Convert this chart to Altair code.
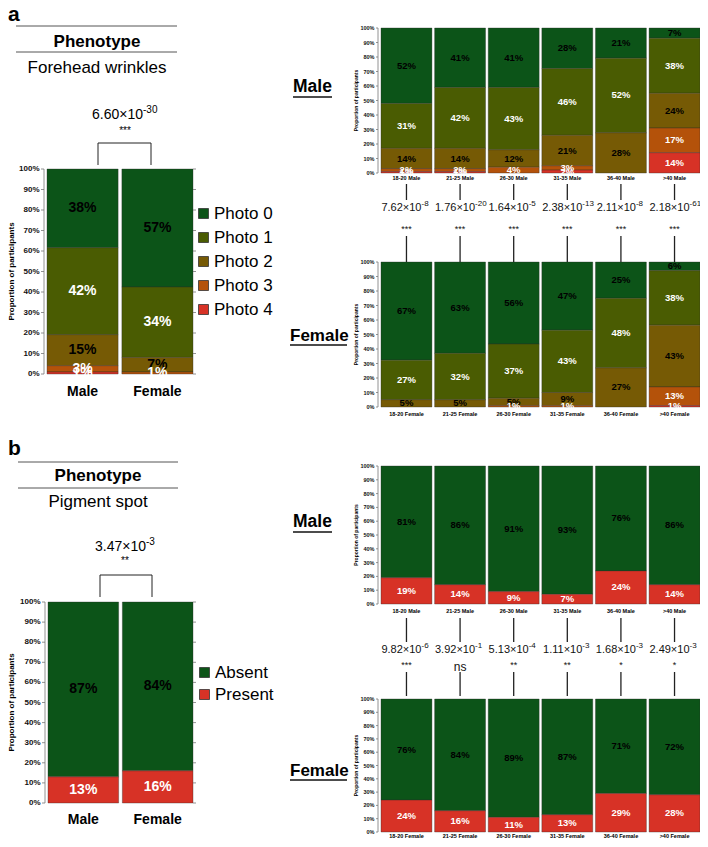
import altair as alt
import pandas as pd

W, H = 692, 831
FONT = "Liberation Sans"

# ---------------- data ----------------
photo_cats = ["Photo 0", "Photo 1", "Photo 2", "Photo 3", "Photo 4"]
photo_colors = ["#0c5418", "#4a5c02", "#765a05", "#b4520a", "#d73226"]
photo_white = [False, True, False, True, True]

spot_cats = ["Absent", "Present"]
spot_colors = ["#0c5418", "#d73226"]
spot_white = [False, True]

sex_groups = ["Male", "Female"]
age_groups = ["18-20", "21-25", "26-30", "31-35", "36-40", ">40"]

# Forehead wrinkles (Photo 0..4), percent
fw_sex = [[38, 42, 15, 3, 1], [57, 34, 7, 1, 0]]
fw_male_age = [[52, 31, 14, 2, 1], [41, 42, 14, 2, 1], [41, 43, 12, 4, 0],
               [28, 46, 21, 3, 2], [21, 52, 28, 0, 0], [7, 38, 24, 17, 14]]
fw_female_age = [[67, 27, 5, 0, 0], [63, 32, 5, 0, 0], [56, 37, 5, 1, 0],
                 [47, 43, 9, 1, 0], [25, 48, 27, 0, 0], [6, 38, 43, 13, 1]]

# Pigment spot (Absent, Present), percent
ps_sex = [[87, 13], [84, 16]]
ps_male_age = [[81, 19], [86, 14], [91, 9], [93, 7], [76, 24], [86, 14]]
ps_female_age = [[76, 24], [84, 16], [89, 11], [87, 13], [71, 29], [72, 28]]

# p-values: mantissa, exponent, significance
fw_p_sex_mant, fw_p_sex_exp, fw_sig_sex = "6.60", "-30", "***"
fw_p_age_mant = ["7.62", "1.76", "1.64", "2.38", "2.11", "2.18"]
fw_p_age_exp = ["-8", "-20", "-5", "-13", "-8", "-61"]
fw_sig_age = ["***", "***", "***", "***", "***", "***"]
ps_p_sex_mant, ps_p_sex_exp, ps_sig_sex = "3.47", "-3", "**"
ps_p_age_mant = ["9.82", "3.92", "5.13", "1.11", "1.68", "2.49"]
ps_p_age_exp = ["-6", "-1", "-4", "-3", "-3", "-3"]
ps_sig_age = ["***", "ns", "**", "**", "*", "*"]

y_ticks = [i / 10 for i in range(11)]
dummy = pd.DataFrame({"d": [0]})
tick_df = pd.DataFrame({"t": y_ticks})


def stacked_panel(groups, values, cats, colors, white, xr, yr, bar_font, tick_font,
                  title_font, title_x, xlab_font, xlab_y, label_suffix="",
                  legend=None, pad_inner=0.05, tick_size=3, right_ticks=False, extras=()):
    rows = []
    for g, vals in zip(groups, values):
        for i, v in enumerate(vals):
            rows.append({"group": g, "cat": cats[i], "rank": i, "value": v, "white": white[i]})
    df = pd.DataFrame(rows)
    base = (alt.Chart(df)
            .transform_filter("datum.value > 0")
            .transform_stack(stack="value", groupby=["group"], as_=["y0", "y1"],
                             offset="normalize",
                             sort=[alt.SortField("rank", order="descending")])
            .transform_calculate(mid="(datum.y0 + datum.y1) / 2", lab="datum.value + '%'"))
    x = alt.X("group:N", sort=groups,
              scale=alt.Scale(domain=groups, range=list(xr), paddingInner=pad_inner, paddingOuter=0),
              axis=None)
    y = alt.Y("y0:Q", scale=alt.Scale(domain=[0, 1], range=list(yr), nice=False, zero=False),
              axis=None)
    color = alt.Color("cat:N", scale=alt.Scale(domain=cats, range=colors), legend=legend)
    bars = base.mark_bar(stroke="#2b2b2b", strokeWidth=0.5, strokeOpacity=0.7).encode(
        x=x, y=y, y2="y1:Q", color=color)
    tx = alt.X("group:N", sort=groups, axis=None)
    ty = alt.Y("mid:Q", axis=None)
    blk = base.transform_filter("!datum.white").mark_text(
        color="black", fontSize=bar_font, fontWeight="bold", font=FONT).encode(x=tx, y=ty, text="lab:N")
    wht = base.transform_filter("datum.white").mark_text(
        color="white", fontSize=bar_font, fontWeight="bold", font=FONT).encode(x=tx, y=ty, text="lab:N")

    # hand-drawn axis (through the same y scale)
    ax = xr[0] - 3
    tk = alt.Chart(tick_df).transform_calculate(lab="format(datum.t, '.0%')")
    ty2 = alt.Y("t:Q", axis=None)
    tick_marks = tk.mark_rule(color="#777", strokeWidth=0.8).encode(
        x=alt.value(ax - tick_size), x2=alt.value(ax), y=ty2)
    tick_labels = tk.mark_text(align="right", baseline="middle", fontSize=tick_font,
                               fontWeight="bold", font=FONT, color="#111").encode(
        x=alt.value(ax - tick_size - 1.5), y=ty2, text="lab:N")
    dom = alt.Chart(dummy).mark_rule(color="#777", strokeWidth=0.8).encode(
        x=alt.value(ax), y=alt.value(yr[0]), y2=alt.value(yr[1]))
    title = alt.Chart(dummy).mark_text(
        text="Proportion of participants", angle=270, fontSize=title_font, fontWeight="bold",
        font=FONT, color="black", baseline="middle", align="center").encode(
        x=alt.value(title_x), y=alt.value((yr[0] + yr[1]) / 2))
    xl = alt.Chart(pd.DataFrame({"group": groups})).transform_calculate(
        lab="datum.group + '" + label_suffix + "'").mark_text(
        fontSize=xlab_font, fontWeight="bold", font=FONT, color="black", baseline="middle").encode(
        x=tx, y=alt.value(xlab_y), text="lab:N")
    parts = [bars, blk, wht, tick_marks, tick_labels, dom, title, xl]
    if right_ticks:
        parts.append(tk.mark_rule(color="#777", strokeWidth=0.8).encode(
            x=alt.value(xr[1]), x2=alt.value(xr[1] + tick_size), y=ty2))
    return alt.layer(*parts, *extras)


def pval_layers(groups, mants, exps, sigs, y_top1, y_bot1, y_p, y_sig, y_top2, y_bot2):
    pdf = pd.DataFrame({"group": groups, "m": mants, "e": exps, "sig": sigs})
    gx = alt.X("group:N", sort=groups, axis=None)
    base = alt.Chart(pdf)
    r1 = base.mark_rule(color="#222", strokeWidth=1.3).encode(x=gx, y=alt.value(y_top1), y2=alt.value(y_bot1))
    r2 = base.mark_rule(color="#222", strokeWidth=1.3).encode(x=gx, y=alt.value(y_top2), y2=alt.value(y_bot2))
    pm = base.transform_calculate(t="datum.m + '×10'").mark_text(
        fontSize=11, font=FONT, color="#111", align="right", dx=15).encode(
        x=gx, y=alt.value(y_p), text="t:N")
    pe = base.mark_text(fontSize=8, font=FONT, color="#111", align="left", dx=15).encode(
        x=gx, y=alt.value(y_p - 4), text="e:N")
    st = base.transform_filter("datum.sig != 'ns'").mark_text(
        fontSize=9, font=FONT, baseline="top", color="#111").encode(x=gx, y=alt.value(y_sig - 2), text="sig:N")
    ns = base.transform_filter("datum.sig == 'ns'").mark_text(
        fontSize=12, font=FONT, color="#111").encode(x=gx, y=alt.value(y_sig + 4), text="sig:N")
    return [r1, r2, pm, pe, st, ns]


def txt(s, x, y, size, bold=False, align="center", baseline="middle", dy=0):
    return alt.Chart(dummy).mark_text(
        text=s, fontSize=size, fontWeight="bold" if bold else "normal", font=FONT,
        align=align, baseline=baseline, color="black", dy=dy).encode(x=alt.value(x), y=alt.value(y))


def line(x1, x2, y1, y2, color="#555", width=1.0):
    return alt.Chart(dummy).mark_rule(color=color, strokeWidth=width).encode(
        x=alt.value(x1), x2=alt.value(x2), y=alt.value(y1), y2=alt.value(y2))


def pvalue(mant, exp, cx, cy, k):
    return [txt(mant + "×10", cx + k, cy, 14, align="right"),
            txt(exp, cx + k, cy - 5, 10, align="left")]


def legend(x, y, row_pad, offset):
    return alt.Legend(orient="none", legendX=x, legendY=y, title=None, labelFontSize=17,
                      labelFont=FONT, labelColor="black", symbolType="square", symbolSize=100,
                      symbolStrokeColor="#333", symbolStrokeWidth=0.8, rowPadding=row_pad,
                      labelOffset=offset, symbolOpacity=1)


layers = []

# ---------------- panel a ----------------
layers += [
    txt("a", 0, 13, 21, bold=True, align="left", baseline="alphabetic"),
    line(8, 169, 18, 18),
    txt("Phenotype", 89, 34, 17, bold=True),
    line(8, 169, 44, 44),
    txt("Forehead wrinkles", 89, 60, 17),
    *pvalue(fw_p_sex_mant, fw_p_sex_exp, 117, 107, 18),
    txt(fw_sig_sex, 117, 118, 10, baseline="top"),
    line(90, 143, 135, 135, color="#222"),
    line(90, 90, 135, 157, color="#222"),
    line(143, 143, 135, 157, color="#222"),
]
layers.append(stacked_panel(sex_groups, fw_sex, photo_cats, photo_colors, photo_white,
                            (39, 185), (366, 161), bar_font=14, tick_font=8, title_font=8,
                            title_x=4, xlab_font=14, xlab_y=384, right_ticks=True,
                            legend=legend(187, 197, 6, 2)))

layers += [
    txt("Male", 285, 79, 17.5, bold=True, align="left"),
    line(285, 324, 89, 89, color="#111", width=1.5),
    txt("Female", 282, 328, 17, bold=True, align="left"),
    line(282, 339, 337, 337, color="#111", width=1.5),
]
layers.append(stacked_panel(age_groups, fw_male_age, photo_cats, photo_colors, photo_white,
                            (373, 692), (165, 20), bar_font=9.5, tick_font=5.5, title_font=5,
                            title_x=348, xlab_font=5.5, xlab_y=170, label_suffix=" Male",
                            tick_size=2,
                            extras=pval_layers(age_groups, fw_p_age_mant, fw_p_age_exp, fw_sig_age,
                                               176, 192, 200, 219, 228, 254)))
layers.append(stacked_panel(age_groups, fw_female_age, photo_cats, photo_colors, photo_white,
                            (373, 692), (399, 254), bar_font=9.5, tick_font=5.5, title_font=5,
                            title_x=348, xlab_font=5.5, xlab_y=406, label_suffix=" Female",
                            tick_size=2))

# ---------------- panel b ----------------
layers += [
    txt("b", 0, 447, 21, bold=True, align="left", baseline="alphabetic"),
    line(10, 170, 454, 454),
    txt("Phenotype", 90, 468, 17, bold=True),
    line(10, 170, 480, 480),
    txt("Pigment spot", 90, 494, 17),
    *pvalue(ps_p_sex_mant, ps_p_sex_exp, 117, 539, 21),
    txt(ps_sig_sex, 117, 548, 10, baseline="top"),
    line(92, 144, 567, 567, color="#222"),
    line(92, 92, 567, 589, color="#222"),
    line(144, 144, 567, 589, color="#222"),
]
layers.append(stacked_panel(sex_groups, ps_sex, spot_cats, spot_colors, spot_white,
                            (40, 185), (795, 594), bar_font=14, tick_font=8, title_font=8,
                            title_x=4, xlab_font=14, xlab_y=812, right_ticks=True,
                            legend=legend(188, 656, 4, 2)))

layers += [
    txt("Male", 285, 514, 17.5, bold=True, align="left"),
    line(285, 324, 524, 524, color="#111", width=1.5),
    txt("Female", 282, 763, 17, bold=True, align="left"),
    line(282, 339, 772, 772, color="#111", width=1.5),
]
layers.append(stacked_panel(age_groups, ps_male_age, spot_cats, spot_colors, spot_white,
                            (373, 692), (596, 458), bar_font=9.5, tick_font=5.5, title_font=5,
                            title_x=348, xlab_font=5.5, xlab_y=603, label_suffix=" Male",
                            tick_size=2,
                            extras=pval_layers(age_groups, ps_p_age_mant, ps_p_age_exp, ps_sig_age,
                                               610, 634, 642, 655, 664, 688)))
layers.append(stacked_panel(age_groups, ps_female_age, spot_cats, spot_colors, spot_white,
                            (373, 692), (824, 691), bar_font=9.5, tick_font=5.5, title_font=5,
                            title_x=348, xlab_font=5.5, xlab_y=828, label_suffix=" Female",
                            tick_size=2))

chart = (alt.layer(*layers)
         .resolve_scale(x="independent", y="independent", color="independent")
         .resolve_legend(color="independent")
         .properties(width=W, height=H, autosize=alt.AutoSizeParams(type="none"), padding=0)
         .configure(font=FONT)
         .configure_view(stroke=None))

chart.save("out.html", embed_options={"renderer": "svg", "actions": False})
